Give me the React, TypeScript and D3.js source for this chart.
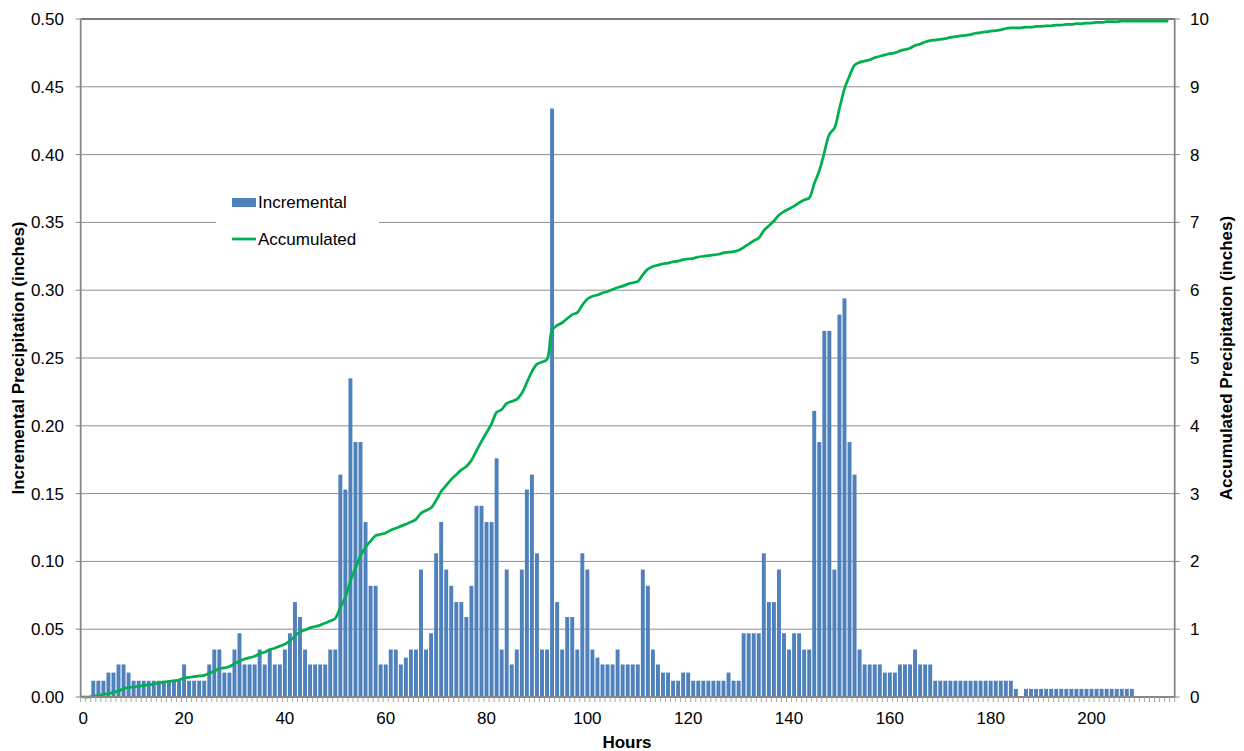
import React from "react";
import * as d3 from "d3";

// ---------- data ----------
const hours: number[] = d3.range(0, 217); // category axis 0..216

// Incremental precipitation (inches), hour 0..208
const incremental: number[] = [
  0, 0, 0.012, 0.012, 0.012, 0.018, 0.018, 0.024, 0.024, 0.018,
  0.012, 0.012, 0.012, 0.012, 0.012, 0.012, 0.012, 0.012, 0.012, 0.012,
  0.024, 0.012, 0.012, 0.012, 0.012, 0.024, 0.035, 0.035, 0.018, 0.018,
  0.035, 0.047, 0.024, 0.024, 0.024, 0.035, 0.024, 0.035, 0.024, 0.024,
  0.035, 0.047, 0.070, 0.059, 0.035, 0.024, 0.024, 0.024, 0.024, 0.035,
  0.035, 0.164, 0.153, 0.235, 0.188, 0.188, 0.129, 0.082, 0.082, 0.024,
  0.024, 0.035, 0.035, 0.024, 0.029, 0.035, 0.035, 0.094, 0.035, 0.047,
  0.106, 0.129, 0.094, 0.082, 0.070, 0.070, 0.059, 0.082, 0.141, 0.141,
  0.129, 0.129, 0.176, 0.035, 0.094, 0.024, 0.035, 0.094, 0.153, 0.164,
  0.106, 0.035, 0.035, 0.434, 0.070, 0.035, 0.059, 0.059, 0.035, 0.106,
  0.094, 0.035, 0.029, 0.024, 0.024, 0.024, 0.035, 0.024, 0.024, 0.024,
  0.024, 0.094, 0.082, 0.035, 0.024, 0.018, 0.018, 0.012, 0.012, 0.018,
  0.018, 0.012, 0.012, 0.012, 0.012, 0.012, 0.012, 0.012, 0.018, 0.012,
  0.012, 0.047, 0.047, 0.047, 0.047, 0.106, 0.070, 0.070, 0.094, 0.047,
  0.035, 0.047, 0.047, 0.035, 0.035, 0.211, 0.188, 0.270, 0.270, 0.094,
  0.282, 0.294, 0.188, 0.164, 0.035, 0.024, 0.024, 0.024, 0.024, 0.018,
  0.018, 0.018, 0.024, 0.024, 0.024, 0.035, 0.024, 0.024, 0.024, 0.012,
  0.012, 0.012, 0.012, 0.012, 0.012, 0.012, 0.012, 0.012, 0.012, 0.012,
  0.012, 0.012, 0.012, 0.012, 0.012, 0.006, 0, 0.006, 0.006, 0.006,
  0.006, 0.006, 0.006, 0.006, 0.006, 0.006, 0.006, 0.006, 0.006, 0.006,
  0.006, 0.006, 0.006, 0.006, 0.006, 0.006, 0.006, 0.006, 0.006,
];

// Accumulated precipitation (inches), hour 0..215
const accumulated: number[] = [
  0.00, 0.00, 0.01, 0.02, 0.04, 0.05, 0.07, 0.09, 0.12, 0.14,
  0.15, 0.16, 0.17, 0.18, 0.19, 0.21, 0.22, 0.23, 0.24, 0.25,
  0.28, 0.29, 0.30, 0.31, 0.32, 0.35, 0.38, 0.42, 0.43, 0.45,
  0.49, 0.53, 0.56, 0.58, 0.60, 0.64, 0.66, 0.70, 0.72, 0.75,
  0.78, 0.83, 0.90, 0.96, 0.99, 1.02, 1.04, 1.06, 1.09, 1.12,
  1.16, 1.32, 1.47, 1.71, 1.90, 2.08, 2.21, 2.30, 2.38, 2.40,
  2.42, 2.46, 2.49, 2.52, 2.55, 2.58, 2.62, 2.71, 2.75, 2.79,
  2.90, 3.03, 3.12, 3.21, 3.28, 3.35, 3.40, 3.49, 3.63, 3.77,
  3.90, 4.03, 4.20, 4.24, 4.33, 4.36, 4.39, 4.48, 4.64, 4.80,
  4.91, 4.94, 4.98, 5.41, 5.48, 5.52, 5.58, 5.64, 5.67, 5.78,
  5.87, 5.91, 5.93, 5.96, 5.98, 6.01, 6.04, 6.06, 6.09, 6.11,
  6.13, 6.23, 6.31, 6.35, 6.37, 6.39, 6.40, 6.42, 6.43, 6.45,
  6.46, 6.47, 6.49, 6.50, 6.51, 6.52, 6.53, 6.55, 6.56, 6.57,
  6.59, 6.63, 6.68, 6.73, 6.77, 6.88, 6.95, 7.02, 7.11, 7.16,
  7.20, 7.24, 7.29, 7.33, 7.36, 7.57, 7.76, 8.03, 8.30, 8.39,
  8.68, 8.97, 9.16, 9.32, 9.36, 9.38, 9.40, 9.43, 9.45, 9.47,
  9.49, 9.50, 9.53, 9.55, 9.57, 9.61, 9.63, 9.66, 9.68, 9.69,
  9.70, 9.71, 9.73, 9.74, 9.75, 9.76, 9.77, 9.79, 9.80, 9.81,
  9.82, 9.83, 9.84, 9.86, 9.87, 9.87, 9.87, 9.88, 9.88, 9.89,
  9.89, 9.90, 9.90, 9.91, 9.91, 9.92, 9.92, 9.93, 9.93, 9.94,
  9.94, 9.95, 9.95, 9.96, 9.96, 9.96, 9.97, 9.97, 9.97, 9.97,
  9.97, 9.97, 9.97, 9.97, 9.97, 9.97,
];

const xTickLabels: number[] = [0, 20, 40, 60, 80, 100, 120, 140, 160, 180, 200];
const leftTicks: number[] = [0, 0.05, 0.1, 0.15, 0.2, 0.25, 0.3, 0.35, 0.4, 0.45, 0.5];
const rightTicks: number[] = [0, 1, 2, 3, 4, 5, 6, 7, 8, 9, 10];

// ---------- layout ----------
const W = 1244;
const H = 751;
const plotLeft = 80.7;
const plotRight = 1174.7;
const plotTop = 19;
const plotBottom = 697;
const FONT = "'Liberation Sans', Arial, Helvetica, sans-serif";

export default function App() {
  const x = d3
    .scaleBand<number>()
    .domain(hours)
    .range([plotLeft, plotRight])
    .padding(0);
  const bw = x.bandwidth();
  const cx = (h: number) => (x(h) as number) + bw / 2;
  const yL = d3.scaleLinear().domain([0, 0.5]).range([plotBottom, plotTop]);
  const yR = d3.scaleLinear().domain([0, 10]).range([plotBottom, plotTop]);

  const barW = bw * 0.78;

  const line = d3
    .line<number>()
    .x((_, i) => cx(hours[i]))
    .y((d) => yR(d))
    .curve(d3.curveCatmullRom.alpha(0.5));

  return (
    <svg
      width={W}
      height={H}
      style={{ position: "absolute", left: 0, top: 0, display: "block", background: "#fff" }}
      fontFamily={FONT}
    >
      {/* gridlines */}
      {leftTicks.map((t) => (
        <line
          key={"g" + t}
          x1={plotLeft}
          x2={plotRight}
          y1={yL(t)}
          y2={yL(t)}
          stroke={t === 0.5 ? "#4d4d4d" : "#8f8f8f"}
          strokeWidth={t === 0.5 ? 1.3 : 1}
        />
      ))}

      {/* legend background (covers gridline) */}
      <rect x={216} y={185} width={163} height={72} fill="#fff" />

      {/* bars */}
      {incremental.map((v, i) =>
        v > 0 ? (
          <rect
            key={"b" + i}
            x={(x(hours[i]) as number) + (bw - barW) / 2}
            y={yL(v)}
            width={barW}
            height={plotBottom - yL(v)}
            fill="#4F81BD"
          />
        ) : null
      )}

      {/* accumulated line */}
      <path
        d={line(accumulated) || ""}
        fill="none"
        stroke="#00B050"
        strokeWidth={2.75}
        strokeLinejoin="round"
        strokeLinecap="round"
      />

      {/* axes lines */}
      <line x1={plotLeft} x2={plotLeft} y1={plotTop} y2={plotBottom} stroke="#868686" strokeWidth={1.8} />
      <line x1={plotRight} x2={plotRight} y1={plotTop} y2={plotBottom} stroke="#868686" strokeWidth={1.8} />
      <line x1={plotLeft} x2={plotRight} y1={plotBottom} y2={plotBottom} stroke="#868686" strokeWidth={1.8} />

      {/* bottom minor ticks at category boundaries */}
      {hours.concat([217]).map((h) => {
        const xx = h === 217 ? plotRight : (x(h) as number);
        return (
          <line
            key={"t" + h}
            x1={xx}
            x2={xx}
            y1={plotBottom}
            y2={plotBottom + 5}
            stroke="#a6a6a6"
            strokeWidth={1}
          />
        );
      })}

      {/* left ticks + labels */}
      {leftTicks.map((t) => (
        <g key={"l" + t}>
          <line x1={plotLeft - 5} x2={plotLeft} y1={yL(t)} y2={yL(t)} stroke="#868686" strokeWidth={1} />
          <text x={64} y={yL(t)} dy="0.35em" textAnchor="end" fontSize={17} fill="#000">
            {d3.format(".2f")(t)}
          </text>
        </g>
      ))}

      {/* right ticks + labels */}
      {rightTicks.map((t) => (
        <g key={"r" + t}>
          <line x1={plotRight} x2={plotRight + 5} y1={yR(t)} y2={yR(t)} stroke="#868686" strokeWidth={1} />
          <text x={1190} y={yR(t)} dy="0.35em" textAnchor="start" fontSize={17} fill="#000">
            {t}
          </text>
        </g>
      ))}

      {/* bottom labels */}
      {xTickLabels.map((t) => (
        <text key={"x" + t} x={cx(t)} y={724} textAnchor="middle" fontSize={17} fill="#000">
          {t}
        </text>
      ))}

      {/* axis titles */}
      <text x={627} y={748} textAnchor="middle" fontSize={17} fontWeight="bold" fill="#000">
        Hours
      </text>
      <text
        transform={`translate(24, ${(plotTop + plotBottom) / 2}) rotate(-90)`}
        textAnchor="middle"
        fontSize={17}
        fontWeight="bold"
        fill="#000"
      >
        Incremental Precipitation (inches)
      </text>
      <text
        transform={`translate(1232, ${(plotTop + plotBottom) / 2}) rotate(-90)`}
        textAnchor="middle"
        fontSize={17}
        fontWeight="bold"
        fill="#000"
      >
        Accumulated Precipitation (inches)
      </text>

      {/* legend */}
      <rect x={232} y={198} width={24} height={9} fill="#4F81BD" />
      <text x={258} y={208} fontSize={17} fill="#000">
        Incremental
      </text>
      <line x1={232} x2={256} y1={239} y2={239} stroke="#00B050" strokeWidth={2.75} />
      <text x={258} y={245} fontSize={17} fill="#000">
        Accumulated
      </text>
    </svg>
  );
}
